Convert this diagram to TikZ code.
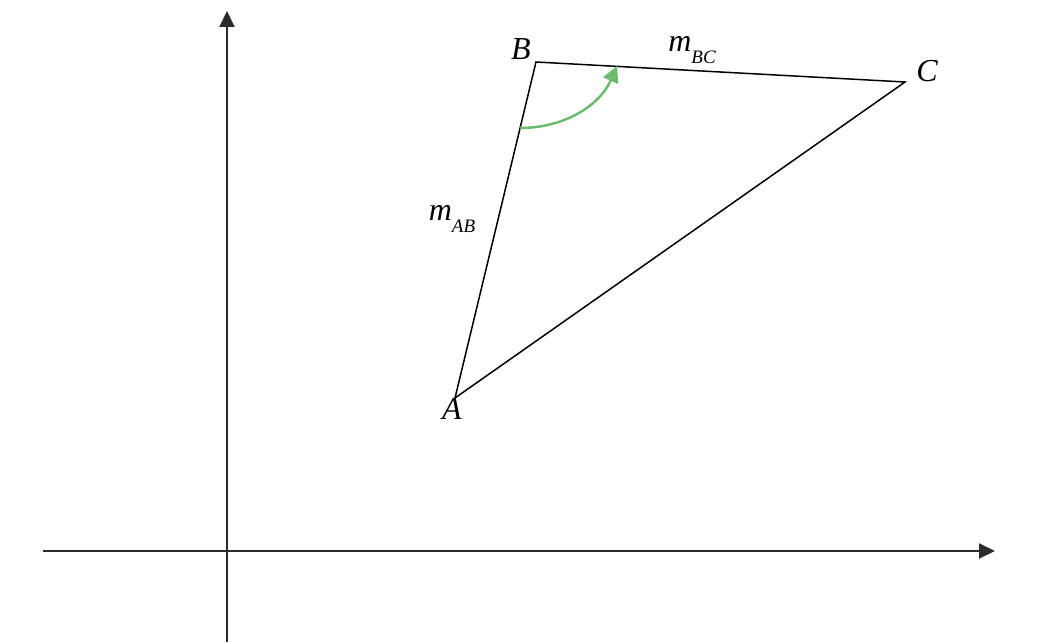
\documentclass[tikz,border=0pt]{standalone}
\usepackage{fontspec}
\setmainfont{Liberation Serif}
\usetikzlibrary{arrows.meta}
\definecolor{axisgray}{HTML}{2B2B2B}
\definecolor{arcgreen}{HTML}{6DBB6D}
\newcommand{\lbl}[2]{\fontsize{32}{34}\selectfont\itshape #1\raisebox{-0.38em}{\fontsize{19}{20}\selectfont #2}}
\tikzset{
  axisline/.style={draw=axisgray, line width=2pt, -{Triangle[length=16pt,width=15pt]}},
  edgeline/.style={draw=black, line width=1.5pt},
  anglearc/.style={draw=arcgreen, line width=2.5pt, -{Triangle[length=16pt,width=16pt]}},
  ptlabel/.style={font=\fontsize{32}{34}\selectfont\itshape, inner sep=0pt},
}
\begin{document}
\begin{tikzpicture}[x=1pt,y=-1pt]
\useasboundingbox (0,0) rectangle (1045,642);
% axes
\coordinate (ys) at (227,642);
\coordinate (ye) at (227,11);
\coordinate (xs) at (43,551);
\coordinate (xe) at (995,551);
\draw[axisline] (ys) -- (ye);
\draw[axisline] (xs) -- (xe);
% triangle
\coordinate (A) at (455,398);
\coordinate (B) at (536,62);
\coordinate (C) at (905,82);
\draw[edgeline, line join=miter] (A) -- (B) -- (C) -- cycle;
% angle arc
\coordinate (p1) at (520,128);
\coordinate (p2) at (617,66);
\draw[anglearc] (p1) .. controls (565,128) and (600,105) .. (p2);
% labels
\node[ptlabel] (lA) at (452,409) {A};
\node[ptlabel] (lB) at (521,49) {B};
\node[ptlabel] (lC) at (927,71) {C};
\node[inner sep=0pt] (lBC) at (692,50) {\lbl{m}{BC}};
\node[inner sep=0pt] (lAB) at (452,219) {\lbl{m}{AB}};
\end{tikzpicture}
\end{document}
